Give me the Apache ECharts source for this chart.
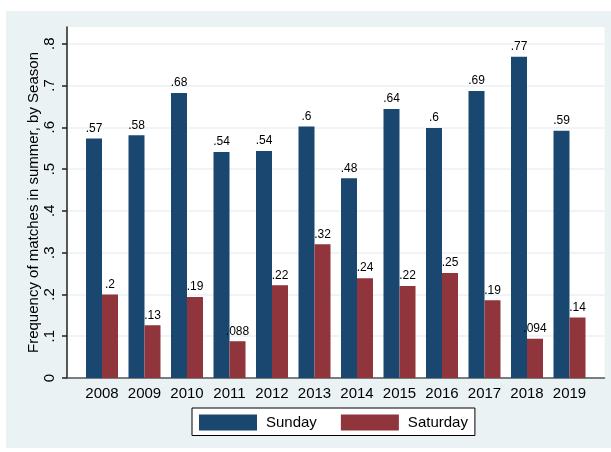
<!DOCTYPE html>
<html>
<head>
<meta charset="utf-8">
<script src="https://cdn.jsdelivr.net/npm/echarts@6/dist/echarts.min.js"></script>
<style>
  html, body { margin: 0; padding: 0; background: #ffffff; }
  #frame { position: absolute; left: 6px; top: 11px; width: 605px; height: 437px; background: #eaf2f3; }
  #chart { position: absolute; left: 0; top: 0; width: 611px; height: 452px; }
</style>
</head>
<body>
<div id="frame"></div>
<div id="chart"></div>
<script>
// Share of summer matches played on each weekday, per season
const seasons = ['2008', '2009', '2010', '2011', '2012', '2013', '2014', '2015', '2016', '2017', '2018', '2019'];
const sunday = [0.573, 0.581, 0.682, 0.541, 0.543, 0.602, 0.478, 0.644, 0.598, 0.687, 0.769, 0.592];
const saturday = [0.2, 0.126, 0.194, 0.088, 0.222, 0.32, 0.239, 0.22, 0.251, 0.186, 0.094, 0.145];
const yTicks = [0, 0.1, 0.2, 0.3, 0.4, 0.5, 0.6, 0.7, 0.8];

const FONT = '"Liberation Sans", Arial, Helvetica, sans-serif';
const Y_MAX = 0.84;

// Stata-style numbers: two significant digits, no leading zero
function sig2(v) {
  const s = String(Number(v.toPrecision(2)));
  return s.replace(/^0\./, '.');
}
function tickLabel(v) {
  const hit = yTicks.find(t => Math.abs(t - v) < 1e-9);
  if (hit === undefined) return '';
  return hit === 0 ? '0' : String(hit).replace(/^0\./, '.');
}

// one colour per split line; the last one sits on the plot's top edge
const gridColors = yTicks.map(() => '#eaf2f3').concat(['rgba(0,0,0,0)']);

const chart = echarts.init(document.getElementById('chart'), null, { renderer: 'canvas' });

const barLabel = {
  show: true,
  position: 'top',
  distance: 4,
  color: '#000',
  fontSize: 12,
  fontFamily: FONT,
  formatter: p => sig2(p.value)
};

chart.setOption({
  backgroundColor: 'transparent',
  animation: false,
  textStyle: { fontFamily: FONT },
  grid: [
    { left: 67, right: 6.5, top: 27, bottom: 74, show: true, backgroundColor: '#ffffff', borderWidth: 0, containLabel: false },
    { left: 80.75, width: 510, top: 27, bottom: 74, containLabel: false }
  ],
  xAxis: [
    {
      gridIndex: 0, type: 'value', min: 0, max: 1,
      axisLine: { show: true, lineStyle: { color: '#555555', width: 1.5 } },
      axisTick: { show: false }, axisLabel: { show: false }, splitLine: { show: false }
    },
    {
      gridIndex: 1, type: 'category', data: seasons,
      axisLine: { show: false }, axisTick: { show: false }, splitLine: { show: false },
      axisLabel: { color: '#000', fontSize: 15, fontFamily: FONT, margin: 8, interval: 0 }
    }
  ],
  yAxis: [
    {
      gridIndex: 0, type: 'value', min: 0, max: Y_MAX, interval: 0.1,
      name: 'Frequency of matches in summer, by Season',
      nameLocation: 'middle', nameGap: 26, nameMoveOverlap: false,
      nameTextStyle: { color: '#000', fontSize: 15, fontFamily: FONT },
      axisLine: { show: true, lineStyle: { color: '#222222', width: 1.5 } },
      axisTick: { show: true, length: 5, lineStyle: { color: '#222222', width: 1.5 }, customValues: yTicks },
      axisLabel: { color: '#000', fontSize: 15, fontFamily: FONT, rotate: 90, margin: 10, formatter: tickLabel, customValues: yTicks },
      splitLine: { show: true, lineStyle: { color: gridColors, width: 1.5 } }
    },
    { gridIndex: 1, type: 'value', min: 0, max: Y_MAX, show: false, splitLine: { show: false } }
  ],
  legend: {
    left: 192, top: 408,
    orient: 'horizontal',
    padding: [6.5, 7, 5, 7],
    itemGap: 24,
    itemWidth: 58, itemHeight: 16,
    icon: 'rect',
    selectedMode: false,
    backgroundColor: '#ffffff',
    borderColor: '#000000', borderWidth: 1, borderRadius: 0,
    textStyle: { color: '#000', fontSize: 15, fontFamily: FONT, padding: [0, 0, 0, 4] },
    data: ['Sunday', 'Saturday']
  },
  series: [
    {
      name: 'Sunday', type: 'bar', xAxisIndex: 1, yAxisIndex: 1,
      data: sunday, barWidth: 16, barGap: '0%',
      itemStyle: { color: '#1a476f' },
      label: barLabel
    },
    {
      name: 'Saturday', type: 'bar', xAxisIndex: 1, yAxisIndex: 1,
      data: saturday, barWidth: 16, barGap: '0%',
      itemStyle: { color: '#90353b' },
      label: barLabel
    }
  ]
});
</script>
</body>
</html>
